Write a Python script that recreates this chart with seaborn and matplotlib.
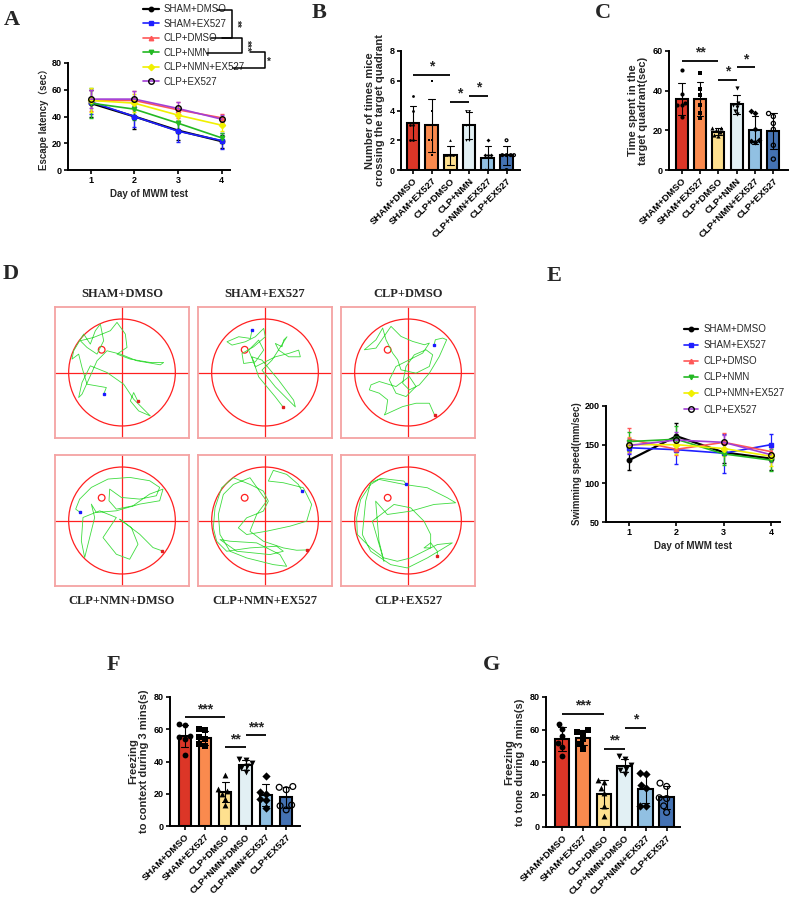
import numpy as np
import pandas as pd
import matplotlib
matplotlib.use('Agg')
import matplotlib.pyplot as plt
import seaborn as sns
from matplotlib.patches import Circle
from matplotlib.lines import Line2D

sns.set_theme(style='ticks')
plt.rcParams['font.family'] = ['Liberation Sans', 'Noto Sans CJK SC', 'DejaVu Sans']
plt.rcParams['font.weight'] = 'bold'
plt.rcParams['axes.labelweight'] = 'bold'

W, H = 790, 900
SERIF = ['Liberation Serif', 'DejaVu Serif']

# ---------------- data ----------------
line_groups = ['SHAM+DMSO', 'SHAM+EX527', 'CLP+DMSO', 'CLP+NMN', 'CLP+NMN+EX527', 'CLP+EX527']
days = [1, 2, 3, 4]

latency_mean = [
    [50, 40, 29.5, 21.5],
    [51, 40, 29, 22],
    [52, 52, 45, 39],
    [50, 45.5, 35, 24],
    [52, 50, 41, 33.5],
    [53, 53, 46, 38],
]
latency_sd = [
    [10, 9, 7, 5],
    [9, 8, 8, 6],
    [8, 7, 6, 3],
    [11, 8, 7, 4],
    [9, 7, 6, 4],
    [7, 6, 5, 3],
]

speed_mean = [
    [130, 161, 140, 132],
    [146, 143.5, 139, 150],
    [157, 144, 153, 141],
    [154, 157, 138, 130],
    [150, 150, 145, 135],
    [149, 156, 153, 137],
]
speed_sd = [
    [13, 17, 14, 15],
    [8, 19, 25, 14],
    [15, 8, 12, 10],
    [12, 17, 14, 14],
    [10, 12, 10, 12],
    [10, 10, 10, 10],
]

bar_groups_bc = ['SHAM+DMSO', 'SHAM+EX527', 'CLP+DMSO', 'CLP+NMN', 'CLP+NMN+EX527', 'CLP+EX527']
bar_groups_fg = ['SHAM+DMSO', 'SHAM+EX527', 'CLP+DMSO', 'CLP+NMN+DMSO', 'CLP+NMN+EX527', 'CLP+EX527']

crossings = [
    [5, 4, 3, 3, 2, 2],
    [6, 4, 3, 2, 2, 1],
    [2, 1, 1, 1, 1, 0],
    [4, 4, 3, 3, 2, 2],
    [2, 1, 1, 1, 0, 0],
    [2, 1, 1, 1, 1, 0],
]
quadrant_time = [
    [50.5, 38.5, 34, 33, 33, 26.5],
    [49, 41, 38, 33, 28.5, 26],
    [21, 21, 20, 19, 17.5, 17],
    [41.5, 33, 34, 32, 30, 28],
    [29.5, 28.5, 20.5, 15, 14.5, 14],
    [28.5, 27, 23.5, 20.5, 12.5, 5.5],
]
freeze_context = [
    [63, 62.5, 56, 55, 54, 44],
    [60, 59.5, 55, 54, 51, 49.5],
    [31.5, 23, 22, 20, 17, 13],
    [41.5, 41, 39, 37, 36, 33.5],
    [31, 21, 20, 17, 16, 11],
    [24, 24.5, 22.5, 13, 12.5, 10],
]
freeze_tone = [
    [63.5, 60.5, 56, 51.5, 49, 44],
    [60, 58.5, 58, 54, 51, 48],
    [29, 28, 24, 21, 13, 7],
    [43.5, 42, 38, 36, 35, 32.5],
    [33, 32.5, 26, 24, 13, 13],
    [27, 25, 18, 17.5, 13, 9],
]

# comparisons: (group i, group j, y level, label)
sig_b = [(0, 2, 6.4, '*'), (2, 3, 4.6, '*'), (3, 4, 5.0, '*')]
sig_c = [(0, 2, 55, '**'), (2, 3, 45.4, '*'), (3, 4, 51.8, '*')]
sig_f = [(0, 2, 67.4, '***'), (2, 3, 48.7, '**'), (3, 4, 56.2, '***')]
sig_g = [(0, 2, 69.7, '***'), (2, 3, 48.2, '**'), (3, 4, 61.2, '*')]

# swim tracks (tracker pixels relative to pool centre, y downward, pool radius 160)
track_titles = ['SHAM+DMSO', 'SHAM+EX527', 'CLP+DMSO', 'CLP+NMN+DMSO', 'CLP+NMN+EX527', 'CLP+EX527']
track_1 = [(-55, 65), (-47, 45), (-105, 35), (-120, -15), (-130, -55), (-150, -40), (-145, -65),
           (-115, -115), (-95, -85), (-80, -125), (-65, -145), (-55, -95), (-75, -55), (-105, -75),
           (-125, -95), (-85, -105), (-35, -125), (-15, -150), (10, -115), (15, -75), (-15, -55),
           (25, -40), (85, -30), (125, -30), (115, -23), (45, -35), (-5, -55), (-45, -65), (-75, -35),
           (-95, 10), (-120, 65), (-130, 75), (-120, 30), (-95, -20), (-45, 0), (5, 35), (35, 80),
           (75, 120), (85, 130), (50, 115), (25, 85), (35, 60), (47, 85)]
track_2 = [(-39, -127), (-44, -102), (-79, -107), (-114, -92), (-99, -82), (-59, -92), (-29, -107),
           (-4, -132), (1, -107), (-34, -77), (-69, -57), (-64, -27), (-29, -32), (-4, -67), (-19, -97),
           (-49, -67), (-29, -17), (31, -47), (71, -57), (101, -67), (106, -47), (71, -47), (41, -67),
           (31, -87), (51, -77), (56, -97), (66, -107), (21, -37), (-9, -7), (31, 43), (71, 83),
           (91, 103), (86, 83), (41, 23), (-9, -37), (-39, -47), (-19, 13), (31, 73), (54, 103)]
track_3 = [(78, -81), (82, -98), (104, -103), (116, -98), (94, -48), (64, 2), (34, 37), (4, 52),
           (-16, 32), (-6, -18), (19, -53), (54, -68), (74, -53), (64, -18), (24, 2), (-21, -8),
           (-31, -38), (-46, -58), (-66, -98), (-76, -133), (-96, -98), (-131, -68), (-96, -73),
           (-51, -138), (-21, -108), (14, -93), (49, -83), (64, -88), (44, -58), (4, -38), (-36, -18),
           (-56, 22), (-36, 62), (-6, 72), (24, 42), (4, 12), (-36, 42), (-86, 27), (-111, 37),
           (-116, 52), (-86, 62), (-61, 82), (-66, 117), (-71, 127), (-16, 102), (24, 92), (64, 92),
           (80, 128)]
track_4 = [(-125, -24), (-139, -34), (-127, -64), (-92, -99), (-42, -124), (23, -129), (83, -119),
           (113, -99), (103, -74), (53, -64), (-2, -69), (-37, -94), (-39, -59), (-17, -34), (33, -44),
           (83, -79), (123, -94), (113, -59), (53, -49), (-17, -29), (-77, -24), (-92, -49), (-82, -9),
           (-92, 31), (-107, 91), (-112, 111), (-122, 61), (-117, -9), (-67, -29), (-17, -9), (-57, 51),
           (-17, 101), (23, 116), (48, 71), (28, 21), (-7, -4), (53, 41), (93, 81), (121, 91)]
track_5 = [(111, -88), (100, -108), (65, -138), (25, -150), (10, -118), (55, -113), (115, -98),
           (140, -48), (125, 2), (75, 17), (5, 32), (-55, 42), (-80, 22), (-55, -8), (-5, -28),
           (10, -58), (-5, -88), (-45, -108), (-95, -128), (-130, -98), (-150, -38), (-155, 22),
           (-145, 62), (-115, 92), (-45, 82), (35, 77), (55, 92), (15, 102), (-85, 92), (-135, 57),
           (-105, 62), (-25, 67), (45, 102), (65, 137), (25, 132), (-55, 112), (-105, 92), (-135, 42),
           (-140, -18), (-125, -78), (-95, -108), (-45, -128), (5, -58), (-25, -18), (-45, 32),
           (-5, 62), (55, 82), (95, 89), (127, 88)]
track_6 = [(-6, -108), (-12, -118), (-82, -126), (-112, -113), (-127, -58), (-137, 42), (-112, 92),
           (-52, 132), (-2, 142), (58, 112), (108, 82), (133, 67), (88, 72), (48, 92), (8, 112),
           (-32, 122), (-72, 112), (-112, 82), (-152, 42), (-154, -8), (-142, -63), (-112, -108),
           (-87, -123), (-12, -108), (58, -98), (118, -68), (143, -53), (78, -48), (8, -28), (-62, -18),
           (-97, -58), (-87, 62), (-72, 122), (-107, 2), (-42, -48), (8, -38), (48, 2), (68, 42),
           (68, 82), (48, 82), (68, 67), (88, 92), (88, 106)]
tracks = [track_1, track_2, track_3, track_4, track_5, track_6]
platform = (-61, -68)

line_colors = ['black', '#1f1fff', '#ff5757', '#23b823', '#f0f000', '#a23fd6']
line_markers = ['o', 's', '^', 'v', 'D', 'o']
bar_colors = ['#dc3627', '#fa8a4e', '#fee08f', '#e2f0f4', '#91c0e2', '#4472b3']
point_markers = ['o', 's', '^', 'v', 'D', 'o']


def px_rect(l, t, r, b):
    return [l / W, 1 - b / H, (r - l) / W, (b - t) / H]


def style_axes(ax):
    sns.despine(ax=ax)
    for s in ['left', 'bottom']:
        ax.spines[s].set_linewidth(1.4)
        ax.spines[s].set_color('black')
    ax.tick_params(width=1.2, length=3, colors='black', labelsize=6.5, pad=1.5)
    ax.set_facecolor('none')


def series_style(name, c, mk):
    open_mk = name == 'CLP+EX527'
    return dict(color=c, marker=mk, ms=4 if open_mk else 3.2,
                mfc='none' if open_mk else c, mec='black' if open_mk else c, mew=1,
                lw=1.6 if c == 'black' else 1.2)


def line_panel(ax, means, sds, ylabel, ylim, yticks):
    handles = []
    for name, m, s, c, mk in zip(line_groups, means, sds, line_colors, line_markers):
        st = series_style(name, c, mk)
        ax.errorbar(days, m, yerr=s, elinewidth=0.9, capsize=1.5, **st)
        handles.append(Line2D([], [], label=name, **st))
    ax.set_xlim(0.48, 4.19)
    ax.set_ylim(*ylim)
    ax.set_xticks(days)
    ax.set_yticks(yticks)
    ax.set_xlabel('Day of MWM test', fontsize=7, labelpad=3)
    ax.set_ylabel(ylabel, fontsize=7, labelpad=2)
    style_axes(ax)
    return handles


def bar_panel(ax, groups, values, ylabel, ylim, yticks, sig, psize, width):
    df = pd.DataFrame({'group': np.repeat(groups, [len(v) for v in values]),
                       'value': np.concatenate(values)})
    sns.barplot(data=df, x='group', y='value', hue='group', order=groups, hue_order=groups,
                palette=bar_colors, saturation=1, legend=False, errorbar='sd', capsize=0.35,
                width=width, edgecolor='black', linewidth=1.5,
                err_kws={'linewidth': 0.8, 'color': 'black'}, ax=ax)
    for g, mk in zip(groups, point_markers):
        sub = df[df['group'] == g]
        sns.swarmplot(data=sub, x='group', y='value', order=groups, marker=mk, color='black',
                      size=psize, ax=ax, warn_thresh=1)
        if g == 'CLP+EX527':
            pts = ax.collections[-1]
            pts.set_facecolor('none')
            pts.set_edgecolor('black')
            pts.set_linewidth(0.9)
    span = ylim[1] - ylim[0]
    for i, j, y, lab in sig:
        ax.plot([i, j], [y, y], color='black', lw=1.3, solid_capstyle='butt')
        ax.text((i + j) / 2, y + span * 0.01, lab, ha='center', va='bottom', fontsize=10)
    ax.set_ylim(*ylim)
    ax.set_yticks(yticks)
    ax.set_xlabel('')
    ax.set_ylabel(ylabel, fontsize=8, labelpad=3, linespacing=1.1)
    style_axes(ax)
    ax.tick_params(axis='x', labelsize=6.8)
    plt.setp(ax.get_xticklabels(), rotation=45, ha='right', rotation_mode='anchor')


fig = plt.figure(figsize=(W / 100, H / 100), dpi=100)

# ---------------- A ----------------
axA = fig.add_axes(px_rect(68, 63, 230, 170))
hA = line_panel(axA, latency_mean, latency_sd, 'Escape latency（sec）', (0, 80), [0, 20, 40, 60, 80])
axA.legend(handles=hA, loc='upper left', bbox_to_anchor=(143 / W, 1 - 4 / H),
           bbox_transform=fig.transFigure, frameon=False, prop={'weight': 'normal', 'size': 7},
           handlelength=1.6, handletextpad=0.5, labelspacing=0.47, borderpad=0, borderaxespad=0)

# ---------------- B ----------------
axB = fig.add_axes(px_rect(401, 51, 520, 170))
bar_panel(axB, bar_groups_bc, crossings, 'Number of times mice\ncrossing the target quadrant',
          (0, 8), [0, 2, 4, 6, 8], sig_b, 2.0, 0.68)
axB.set_xlim(-0.64, 5.72)

# ---------------- C ----------------
axC = fig.add_axes(px_rect(669, 51, 788, 170))
bar_panel(axC, bar_groups_bc, quadrant_time, 'Time spent in the\ntarget quadrant(sec)',
          (0, 60), [0, 20, 40, 60], sig_c, 3.0, 0.64)
axC.set_xlim(-0.69, 5.8)

# ---------------- D ----------------
box_x = [55, 198, 341]
box_y = [307, 455]
for k, (title, tr) in enumerate(zip(track_titles, tracks)):
    l = box_x[k % 3]
    t = box_y[k // 3]
    ax = fig.add_axes(px_rect(l, t, l + 134, t + 131))
    ax.set_xlim(-201, 201)
    ax.set_ylim(196, -196)
    ax.set_xticks([])
    ax.set_yticks([])
    for s in ax.spines.values():
        s.set_color('#f4a3a3')
        s.set_linewidth(1.3)
    ax.set_facecolor('white')
    ax.axhline(0, color='#ff2020', lw=0.9)
    ax.axvline(0, color='#ff2020', lw=0.9)
    ax.add_patch(Circle((0, 0), 160, fill=False, ec='#ff2020', lw=0.9))
    ax.add_patch(Circle(platform, 10, fill=False, ec='#ff2020', lw=0.9))
    xs = [p[0] for p in tr]
    ys = [p[1] for p in tr]
    ax.plot(xs, ys, color='#3fdc3f', lw=0.6)
    ax.plot(xs[0], ys[0], 's', color='#1a1aff', ms=1.8)
    ax.plot(xs[-1], ys[-1], 's', color='#e02020', ms=1.8)
    ty = t - 13 if k < 3 else t + 146
    fig.text((l + 67) / W, 1 - ty / H, title, ha='center', va='center', family=SERIF,
             fontsize=9, fontweight='bold')

# ---------------- E ----------------
axE = fig.add_axes(px_rect(606, 406, 780, 522))
hE = line_panel(axE, speed_mean, speed_sd, 'Swimming speed(mm/sec)', (50, 200), [50, 100, 150, 200])
axE.set_xlim(0.51, 4.19)
axE.legend(handles=hE, loc='upper left', bbox_to_anchor=(684 / W, 1 - 324 / H),
           bbox_transform=fig.transFigure, frameon=False, prop={'weight': 'normal', 'size': 7},
           handlelength=1.4, handletextpad=0.6, labelspacing=0.63, borderpad=0, borderaxespad=0)

# ---------------- F / G ----------------
axF = fig.add_axes(px_rect(170, 697, 300, 826))
bar_panel(axF, bar_groups_fg, freeze_context, 'Freezing\nto context during 3 mins(s)',
          (0, 80), [0, 20, 40, 60, 80], sig_f, 4.2, 0.6)
axF.set_xlim(-0.72, 5.68)

axG = fig.add_axes(px_rect(546, 697, 680, 827))
bar_panel(axG, bar_groups_fg, freeze_tone, 'Freezing\nto tone during 3 mins(s)',
          (0, 80), [0, 20, 40, 60, 80], sig_g, 4.2, 0.7)
axG.set_xlim(-0.77, 5.64)

# ---------------- overlay: brackets and panel letters ----------------
ov = fig.add_axes([0, 0, 1, 1])
ov.set_xlim(0, W)
ov.set_ylim(H, 0)
ov.axis('off')
ov.patch.set_alpha(0)
bk = dict(color='black', lw=1.1)
ov.plot([217, 232, 232, 211], [10, 10, 38, 38], **bk)
ov.plot([222, 242, 242, 207], [38, 38, 53, 53], **bk)
ov.plot([250, 265, 265, 233], [52, 52, 68, 68], **bk)
ov.text(236, 24, '**', rotation=-90, ha='center', va='center', fontsize=7)
ov.text(246, 46, '***', rotation=-90, ha='center', va='center', fontsize=7)
ov.text(269, 62, '*', ha='center', va='center', fontsize=7)

for lab, x, y in [('A', 12, 20), ('B', 319, 13), ('C', 603, 13), ('D', 11, 274),
                  ('E', 554, 276), ('F', 113, 665), ('G', 492, 665)]:
    ov.text(x, y, lab, ha='center', va='center', family=SERIF, fontsize=16, fontweight='bold')

fig.savefig('out.png', dpi=100)
